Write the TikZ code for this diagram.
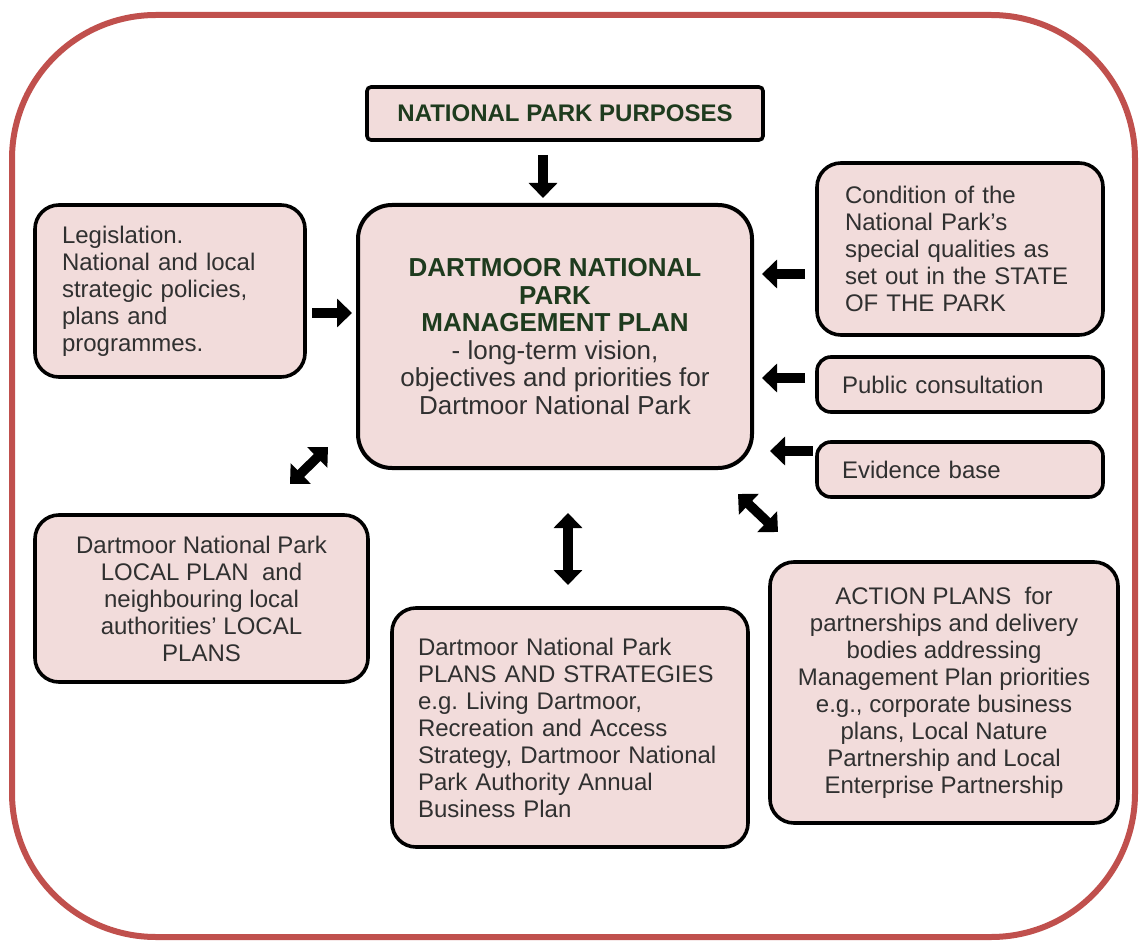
\documentclass[tikz,border=0pt]{standalone}
\usepackage{fontspec}
\setmainfont{Liberation Sans}
\usetikzlibrary{arrows.meta}
\definecolor{pinkfill}{HTML}{F2DCDB}
\definecolor{framered}{HTML}{C0504D}
\definecolor{titlegreen}{HTML}{1E3B1E}
\definecolor{bodytext}{HTML}{303030}
\newcommand\dtitle[1]{\textcolor{titlegreen}{\textbf{#1}}}
\frenchspacing
\begin{document}
\begin{tikzpicture}[x=0.5pt,y=-0.5pt,
  box/.style={draw=black, line width=1.8pt, fill=pinkfill, rounded corners=12pt,
    text=bodytext, font=\fontsize{12}{13.5}\selectfont, inner ysep=0pt},
  leftbox/.style={box, align=left},
  centerbox/.style={box, align=center},
  blockarrow/.style={line width=4.8pt, -{Triangle[width=14pt,length=7.5pt]}},
  dblarrow/.style={line width=4.8pt, {Triangle[width=14pt,length=7.5pt]}-{Triangle[width=14pt,length=7.5pt]}}
]
\useasboundingbox (0,0) rectangle (1140,941);
\draw[framered, line width=3pt, rounded corners=72pt] (12,15) rectangle (1135,937);

% nodes
\node[centerbox, rounded corners=2pt, minimum width=198pt, minimum height=26.5pt] (purp) at (565,113.5)
  {\dtitle{NATIONAL PARK PURPOSES}};
\node[centerbox, rounded corners=17pt, line width=2pt, minimum width=197pt, minimum height=131.5pt,
  font=\fontsize{13}{13.8}\selectfont] (plan) at (555,336.5)
  {\dtitle{DARTMOOR NATIONAL}\\ \dtitle{PARK}\\ \dtitle{MANAGEMENT PLAN}\\ - long-term vision,\\ objectives and priorities for\\ Dartmoor National Park};
\node[leftbox, inner xsep=13.5pt, text width=108pt, minimum height=86pt] (legis) at (170,291)
  {Legislation.\\ National and local\\ strategic policies,\\ plans and\\ programmes.};
\node[leftbox, inner xsep=14pt, text width=115pt, minimum height=86pt] (cond) at (960,249)
  {Condition of the\\ National Park's\\ special qualities as\\ set out in the STATE\\ OF THE PARK};
\node[leftbox, rounded corners=7pt, inner xsep=12.5pt, text width=118pt, minimum height=27.5pt] (pub) at (960,384.5)
  {Public consultation};
\node[leftbox, rounded corners=7pt, inner xsep=12.5pt, text width=118pt, minimum height=27.5pt] (evid) at (960,469.5)
  {Evidence base};
\node[centerbox, minimum width=166.5pt, minimum height=83.5pt] (local) at (201.5,598.5)
  {Dartmoor National Park\\ LOCAL PLAN\ \ and\\ neighbouring local\\ authorities' LOCAL\\ PLANS};
\node[leftbox, inner xsep=13pt, text width=152pt, minimum height=119.5pt] (strat) at (570,727.5)
  {Dartmoor National Park\\ PLANS AND STRATEGIES\\ e.g. Living Dartmoor,\\ Recreation and Access\\ Strategy, Dartmoor National\\ Park Authority Annual\\ Business Plan};
\node[centerbox, minimum width=174pt, minimum height=130.5pt] (action) at (944,692.5)
  {ACTION PLANS\ \ for\\ partnerships and delivery\\ bodies addressing\\ Management Plan priorities\\ e.g., corporate business\\ plans, Local Nature\\ Partnership and Local\\ Enterprise Partnership};

% arrow end points
\coordinate (a1s) at (543,155);  \coordinate (a1e) at (543,198);
\coordinate (a2s) at (312,313);  \coordinate (a2e) at (352,313);
\coordinate (a3s) at (805,274);  \coordinate (a3e) at (762,274);
\coordinate (a4s) at (805,378);  \coordinate (a4e) at (762,378);
\coordinate (a5s) at (813,451);  \coordinate (a5e) at (770,451);
\coordinate (d1s) at (290,484);  \coordinate (d1e) at (328,447);
\coordinate (d2s) at (568,513);  \coordinate (d2e) at (568,585);
\coordinate (d3s) at (738,494);  \coordinate (d3e) at (778,532);

\draw[blockarrow] (a1s) -- (a1e);
\draw[blockarrow] (a2s) -- (a2e);
\draw[blockarrow] (a3s) -- (a3e);
\draw[blockarrow] (a4s) -- (a4e);
\draw[blockarrow] (a5s) -- (a5e);
\draw[dblarrow] (d1s) -- (d1e);
\draw[dblarrow] (d2s) -- (d2e);
\draw[dblarrow] (d3s) -- (d3e);
\end{tikzpicture}
\end{document}
